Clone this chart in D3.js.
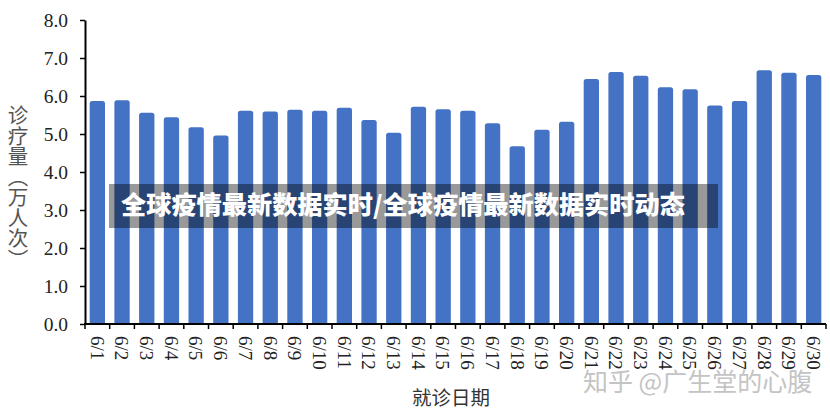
<!DOCTYPE html>
<html><head><meta charset="utf-8">
<script src="https://cdn.jsdelivr.net/npm/d3@7/dist/d3.min.js"></script>
<style>
html,body{margin:0;padding:0;background:#fff;}
svg{display:block;}
</style></head>
<body>
<svg id="chart" width="830" height="413"></svg>
<script>
const categories = ["6/1","6/2","6/3","6/4","6/5","6/6","6/7","6/8","6/9","6/10","6/11","6/12","6/13","6/14","6/15","6/16","6/17","6/18","6/19","6/20","6/21","6/22","6/23","6/24","6/25","6/26","6/27","6/28","6/29","6/30"];
const values = [5.87,5.89,5.56,5.44,5.18,4.96,5.61,5.59,5.64,5.61,5.69,5.37,5.03,5.72,5.65,5.61,5.28,4.68,5.11,5.32,6.45,6.63,6.53,6.23,6.18,5.75,5.87,6.68,6.61,6.55];
const yTicks = [0,1,2,3,4,5,6,7,8];
const yTitle = "诊疗量（万人次）";
const xTitle = "就诊日期";
const bannerText = "全球疫情最新数据实时/全球疫情最新数据实时动态";
const watermark = "知乎 @广生堂的心腹";

const svg = d3.select("#chart");
const mLeft = 85, mRight = 826, mTop = 20, mBottom = 324;
const x = d3.scaleBand().domain(categories).range([mLeft, mRight]).paddingInner(0.38).paddingOuter(0.19);
const y = d3.scaleLinear().domain([0, 8]).range([mBottom, mTop]);

// bars with slightly rounded tops
const rr = 2.5;
svg.append("g").selectAll("path").data(values).join("path")
  .attr("fill", "#4472C4")
  .attr("d", (d, i) => {
    const x0 = x(categories[i]), w = x.bandwidth(), y0 = y(d), y1 = y(0);
    return `M${x0},${y1}L${x0},${y0 + rr}Q${x0},${y0} ${x0 + rr},${y0}L${x0 + w - rr},${y0}Q${x0 + w},${y0} ${x0 + w},${y0 + rr}L${x0 + w},${y1}Z`;
  });

// y axis
const yAxis = svg.append("g").attr("transform", `translate(${mLeft},0)`)
  .call(d3.axisLeft(y).tickValues(yTicks).tickFormat(d3.format(".1f")).tickSize(5).tickSizeOuter(0));
yAxis.select(".domain").attr("stroke", "#000").attr("stroke-width", 2);
yAxis.selectAll(".tick line").attr("stroke", "#000").attr("stroke-width", 1.5);
yAxis.selectAll(".tick text").attr("font-family", "Liberation Serif, serif").attr("font-size", 19.5).attr("fill", "#222").attr("x", -17);

// x axis (ticks at band boundaries)
const xg = svg.append("g").attr("transform", `translate(0,${mBottom})`);
xg.append("line").attr("x1", mLeft - 1).attr("x2", mRight).attr("y1", 0).attr("y2", 0).attr("stroke", "#000").attr("stroke-width", 2);
const step = x.step();
const boundaries = d3.range(categories.length + 1).map(i => mLeft + i * step);
xg.selectAll("line.tk").data(boundaries).join("line").attr("class", "tk")
  .attr("x1", d => d).attr("x2", d => d).attr("y1", 0).attr("y2", 5)
  .attr("stroke", "#000").attr("stroke-width", 1.5);
xg.selectAll("text.lb").data(categories).join("text").attr("class", "lb")
  .attr("transform", d => `translate(${x(d) + x.bandwidth() / 2},12) rotate(90)`)
  .attr("dy", "0.35em")
  .attr("font-family", "Liberation Serif, serif").attr("font-size", 19).attr("fill", "#222")
  .text(d => d);

// titles
svg.append("text").attr("x", 18).attr("y", 105)
  .style("writing-mode", "vertical-rl").attr("text-anchor", "start")
  .attr("font-family", "Noto Sans CJK SC, sans-serif").attr("font-size", 20.5).attr("fill", "#555")
  .text(yTitle);
svg.append("text").attr("x", 451).attr("y", 405).attr("text-anchor", "middle")
  .attr("font-family", "Noto Sans CJK SC, sans-serif").attr("font-size", 19.5).attr("fill", "#333")
  .text(xTitle);

// banner
svg.append("rect").attr("x", 109).attr("y", 184).attr("width", 609).attr("height", 44).attr("fill", "rgba(0,0,0,0.4)");
svg.append("text").attr("x", 121).attr("y", 214)
  .attr("font-family", "Noto Sans CJK SC, sans-serif").attr("font-weight", 900).attr("font-size", 25.2).attr("fill", "#fff")
  .text(bannerText);

// watermark
svg.append("text").attr("x", 583).attr("y", 391)
  .attr("font-family", "Noto Sans CJK SC, sans-serif").attr("font-size", 25).attr("fill", "#c4c4c4")
  .attr("stroke", "#fff").attr("stroke-width", 0.6).attr("paint-order", "stroke")
  .text(watermark);
</script>
</body></html>
